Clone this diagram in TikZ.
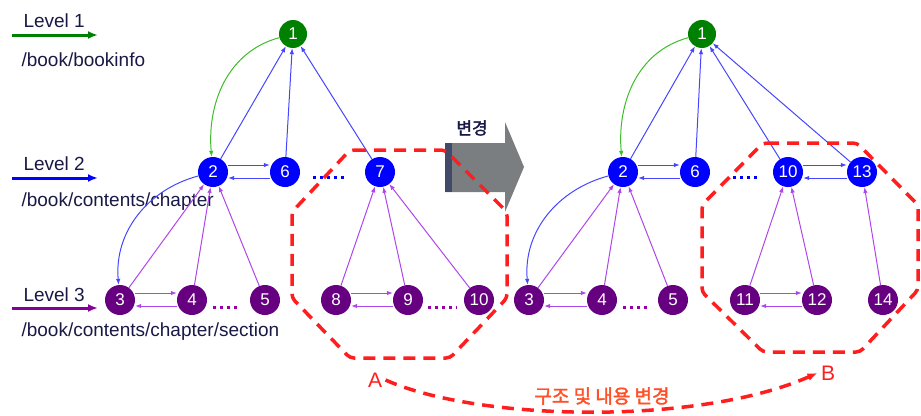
\documentclass[tikz,border=0pt]{standalone}
\usepackage{fontspec}
\setmainfont{Liberation Sans}
\newfontfamily\krfont[AutoFakeBold=2]{Noto Sans CJK KR}
\usetikzlibrary{arrows.meta}
\definecolor{lvgreen}{RGB}{0,128,0}
\definecolor{lvblue}{RGB}{0,0,255}
\definecolor{lvpurple}{RGB}{102,0,128}
\definecolor{edgeblue}{RGB}{70,70,255}
\definecolor{edgepurple}{RGB}{175,70,235}
\definecolor{edgegreen}{RGB}{60,190,40}
\definecolor{chgred}{RGB}{255,30,30}
\definecolor{chgtext}{RGB}{255,80,40}
\definecolor{txtnavy}{RGB}{25,25,70}
\definecolor{arrgray}{RGB}{122,126,128}
\definecolor{arrdark}{RGB}{65,75,105}

\begin{document}
\begin{tikzpicture}[x=1pt,y=-1pt,>={Latex[length=6pt,width=4.5pt]},
 font=\fontsize{19}{21}\selectfont,
 root/.style={circle,fill=lvgreen,text=white,minimum size=28pt,inner sep=0pt,font=\fontsize{17}{19}\selectfont},
 chap/.style={root,fill=lvblue,minimum size=30pt},
 sect/.style={root,fill=lvpurple,minimum size=30pt},
 lvtext/.style={anchor=west,text=txtnavy},
 lvarrow/.style={-{Latex[length=10pt,width=8pt]},line width=3pt},
 toroot/.style={->,edgeblue,line width=1pt},
 tochap/.style={->,edgepurple,line width=1pt},
 tofirst/.style={->,edgegreen,line width=1pt},
 chapdots/.style={lvblue,line width=3pt,dash pattern=on 3pt off 4pt},
 sectdots/.style={lvpurple!70!magenta,line width=3pt,dash pattern=on 3pt off 4pt},
 chgline/.style={chgred,line width=3.5pt,dash pattern=on 12pt off 8pt,rounded corners=4pt},
 chglabel/.style={text=chgred,font=\fontsize{21}{23}\selectfont}]
\useasboundingbox (0,0) rectangle (921,415);

\node[lvtext] (lv1) at (20,21) {Level 1};
\node[lvtext] (bookinfo) at (18,60) {/book/bookinfo};
\coordinate (g1s) at (12,35);
\coordinate (g1e) at (98,35);
\draw[lvarrow,lvgreen] (g1s) -- (g1e);

\node[lvtext] (lv2) at (20,164) {Level 2};
\node[lvtext] (chapter) at (18,202) {/book/contents/chapter};
\coordinate (g2s) at (12,178);
\coordinate (g2e) at (98,178);
\draw[lvarrow,lvblue] (g2s) -- (g2e);

\node[lvtext] (lv3) at (20,295) {Level 3};
\node[lvtext] (section) at (18,332) {/book/contents/chapter/section};
\coordinate (g3s) at (12,308);
\coordinate (g3e) at (98,308);
\draw[lvarrow,lvpurple!80!magenta] (g3s) -- (g3e);

\fill[arrgray] (445,143) -- (505,143) -- (505,122) -- (524,167) -- (505,212) -- (505,192) -- (445,192) -- cycle;
\fill[arrdark] (445,143) rectangle (452,192);
\node[text=txtnavy,font=\krfont\bfseries\fontsize{17}{19}\selectfont] (chg) at (472,128) {변경};

\node[root] (a1) at (293,34) {1};
\node[chap] (a2) at (213,172) {2};
\node[chap] (a6) at (285,172) {6};
\node[chap] (a7) at (380,172) {7};
\node[sect] (a3) at (120,300) {3};
\node[sect] (a4) at (192,300) {4};
\node[sect] (a5) at (265,300) {5};
\node[sect] (a8) at (336,300) {8};
\node[sect] (a9) at (408,300) {9};
\node[sect] (a10) at (479,300) {10};

\draw[toroot] (a2) -- (a1);
\draw[toroot] (a6) -- (a1);
\draw[toroot] (a7) -- (a1);
\draw[tofirst] (a1) to[out=195,in=95] (a2);
\draw[toroot] ([yshift=7pt]a2.east) -- ([yshift=7pt]a6.west);
\draw[toroot] ([yshift=-6pt]a6.west) -- ([yshift=-6pt]a2.east);
\draw[toroot] (a2) to[out=195,in=95] (a3);
\draw[tochap] (a3) -- (a2);
\draw[tochap] (a4) -- (a2);
\draw[tochap] (a5) -- (a2);
\draw[tochap] ([yshift=7pt]a3.east) -- ([yshift=7pt]a4.west);
\draw[tochap] ([yshift=-6pt]a4.west) -- ([yshift=-6pt]a3.east);
\draw[tochap] (a8) -- (a7);
\draw[tochap] (a9) -- (a7);
\draw[tochap] (a10) -- (a7);
\draw[tochap] ([yshift=7pt]a8.east) -- ([yshift=7pt]a9.west);
\draw[tochap] ([yshift=-6pt]a9.west) -- ([yshift=-6pt]a8.east);
\draw[chapdots,shorten <=13pt,shorten >=17pt] ([yshift=-5pt]a6.east) -- ([yshift=-5pt]a7.west);
\draw[sectdots,shorten <=6pt,shorten >=10pt] ([yshift=-7pt]a4.east) -- ([yshift=-7pt]a5.west);
\draw[sectdots,shorten <=5pt,shorten >=7pt] ([yshift=-7pt]a9.east) -- ([yshift=-7pt]a10.west);

\node[root] (b1) at (702,34) {1};
\node[chap] (b2) at (623,172) {2};
\node[chap] (b6) at (695,172) {6};
\node[chap] (b10) at (788,172) {10};
\node[chap] (b13) at (862,172) {13};
\node[sect] (b3) at (529,300) {3};
\node[sect] (b4) at (602,300) {4};
\node[sect] (b5) at (673,300) {5};
\node[sect] (b11) at (745,300) {11};
\node[sect] (b12) at (817,300) {12};
\node[sect] (b14) at (883,300) {14};

\draw[toroot] (b2) -- (b1);
\draw[toroot] (b6) -- (b1);
\draw[toroot] (b10) -- (b1);
\draw[toroot] (b13) -- (b1);
\draw[tofirst] (b1) to[out=195,in=95] (b2);
\draw[toroot] ([yshift=7pt]b2.east) -- ([yshift=7pt]b6.west);
\draw[toroot] ([yshift=-6pt]b6.west) -- ([yshift=-6pt]b2.east);
\draw[toroot] ([yshift=7pt]b10.east) -- ([yshift=7pt]b13.west);
\draw[toroot] ([yshift=-6pt]b13.west) -- ([yshift=-6pt]b10.east);
\draw[toroot] (b2) to[out=195,in=95] (b3);
\draw[tochap] (b3) -- (b2);
\draw[tochap] (b4) -- (b2);
\draw[tochap] (b5) -- (b2);
\draw[tochap] ([yshift=7pt]b3.east) -- ([yshift=7pt]b4.west);
\draw[tochap] ([yshift=-6pt]b4.west) -- ([yshift=-6pt]b3.east);
\draw[tochap] (b11) -- (b10);
\draw[tochap] (b12) -- (b10);
\draw[tochap] (b14) -- (b13);
\draw[tochap] ([yshift=7pt]b11.east) -- ([yshift=7pt]b12.west);
\draw[tochap] ([yshift=-6pt]b12.west) -- ([yshift=-6pt]b11.east);
\draw[chapdots,shorten <=23pt,shorten >=15pt] ([yshift=-5pt]b6.east) -- ([yshift=-5pt]b10.west);
\draw[sectdots,shorten <=6pt,shorten >=8pt] ([yshift=-7pt]b4.east) -- ([yshift=-7pt]b5.west);

\draw[chgline] (350,150) -- (445,150) -- (507,212) -- (507,298) -- (450,358) -- (350,358) -- (292,298) -- (292,212) -- cycle;
\draw[chgline] (763,143) -- (857,143) -- (918,205) -- (918,290) -- (860,352) -- (763,352) -- (702,292) -- (702,205) -- cycle;

\node[chglabel] (labA) at (375,380) {A};
\node[chglabel] (labB) at (828,373) {B};
\draw[chgline,-{Latex[length=10pt,width=8pt]}] (labA.east) .. controls (480,422) and (700,425) .. (labB.west);
\node[text=chgtext,font=\krfont\bfseries\fontsize{19}{21}\selectfont] (chgdesc) at (602,396) {구조 및 내용 변경};
\end{tikzpicture}
\end{document}
